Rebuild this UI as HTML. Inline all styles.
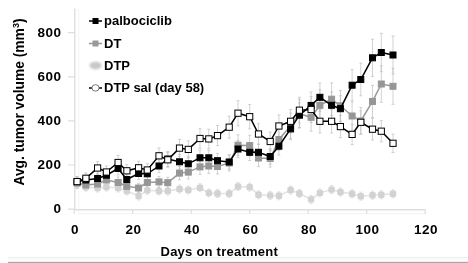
<!DOCTYPE html>
<html><head><meta charset="utf-8"><style>
html,body{margin:0;padding:0;background:#fff;}
body{width:468px;height:263px;overflow:hidden;position:relative;font-family:"Liberation Sans",sans-serif;font-weight:bold;color:#000;}
.t{position:absolute;white-space:nowrap;font-size:13px;line-height:15px;}
.yl{position:absolute;right:407px;text-align:right;font-size:13.5px;line-height:15px;letter-spacing:0.5px;margin-right:-0.5px}
.xl{position:absolute;font-size:13.5px;line-height:15px;letter-spacing:0.5px;text-indent:0.5px;text-align:center;width:40px;}
svg{position:absolute;left:0;top:0}
#w{position:absolute;left:0;top:0;width:468px;height:263px;background:#fff;filter:blur(0.4px);}
</style></head><body><div id="w">
<svg width="468" height="263" viewBox="0 0 468 263"><defs><filter id="bl" x="-50%" y="-50%" width="200%" height="200%"><feGaussianBlur stdDeviation="1.2"/></filter></defs>
<rect x="8" y="261.8" width="460" height="1.2" fill="#a8a8a8"/><path d="M8 259.2H468" stroke="#f5f5f5" stroke-width="0.8"/>
<path d="M8 257.5H468" stroke="#eeeeee" stroke-width="1"/>
<path d="M78.8 9V213.7H426" stroke="#f3f3f3" stroke-width="1" fill="none"/><path d="M74.8 8.5V209.8H425.5" stroke="#dedede" stroke-width="1.4" fill="none"/><path d="M68 209.1H74.5M68 165.0H74.5M68 120.9H74.5M68 76.8H74.5M68 32.7H74.5M74.2 209.5V214M132.7 209.5V214M191.2 209.5V214M249.7 209.5V214M308.2 209.5V214M366.7 209.5V214M425.2 209.5V214" stroke="#dedede" stroke-width="1.2" fill="none"/><path d="M77.1 180.0V188.0M75.6 180.0h3M75.6 188.0h3M85.9 183.0V191.0M84.4 183.0h3M84.4 191.0h3M97.6 184.0V192.0M96.1 184.0h3M96.1 192.0h3M106.4 183.0V191.0M104.9 183.0h3M104.9 191.0h3M118.1 184.0V192.0M116.6 184.0h3M116.6 192.0h3M126.8 187.0V195.0M125.3 187.0h3M125.3 195.0h3M138.6 192.0V200.0M137.1 192.0h3M137.1 200.0h3M147.3 186.3V194.3M145.8 186.3h3M145.8 194.3h3M159.0 187.0V195.0M157.5 187.0h3M157.5 195.0h3M167.8 187.0V195.0M166.3 187.0h3M166.3 195.0h3M179.5 185.0V193.0M178.0 185.0h3M178.0 193.0h3M188.3 186.0V194.0M186.8 186.0h3M186.8 194.0h3M200.0 183.7V191.7M198.5 183.7h3M198.5 191.7h3M208.8 188.9V196.9M207.2 188.9h3M207.2 196.9h3M217.5 189.5V197.5M216.0 189.5h3M216.0 197.5h3M229.2 189.5V197.5M227.7 189.5h3M227.7 197.5h3M238.0 182.5V190.5M236.5 182.5h3M236.5 190.5h3M249.7 183.1V191.1M248.2 183.1h3M248.2 191.1h3M258.5 190.8V198.8M257.0 190.8h3M257.0 198.8h3M270.2 191.4V199.4M268.7 191.4h3M268.7 199.4h3M278.9 191.8V199.8M277.4 191.8h3M277.4 199.8h3M290.6 186.0V194.0M289.1 186.0h3M289.1 194.0h3M299.4 189.5V197.5M297.9 189.5h3M297.9 197.5h3M311.1 195.4V203.4M309.6 195.4h3M309.6 203.4h3M319.9 188.9V196.9M318.4 188.9h3M318.4 196.9h3M331.6 185.6V193.6M330.1 185.6h3M330.1 193.6h3M340.4 188.0V196.0M338.9 188.0h3M338.9 196.0h3M352.1 189.8V197.8M350.6 189.8h3M350.6 197.8h3M360.8 192.2V200.2M359.3 192.2h3M359.3 200.2h3M372.5 191.2V199.2M371.0 191.2h3M371.0 199.2h3M381.3 190.8V198.8M379.8 190.8h3M379.8 198.8h3M393.0 189.8V197.8M391.5 189.8h3M391.5 197.8h3" stroke="#d4d4d4" stroke-width="0.7" fill="none"/><path d="M77.1 177.6V188.4M75.6 177.6h3M75.6 188.4h3M85.9 179.9V190.1M84.4 179.9h3M84.4 190.1h3M97.6 178.7V189.3M96.1 178.7h3M96.1 189.3h3M106.4 174.2V185.8M104.9 174.2h3M104.9 185.8h3M118.1 177.0V188.0M116.6 177.0h3M116.6 188.0h3M126.8 181.3V191.3M125.3 181.3h3M125.3 191.3h3M138.6 183.3V192.7M137.1 183.3h3M137.1 192.7h3M147.3 177.0V188.0M145.8 177.0h3M145.8 188.0h3M159.0 176.4V187.4M157.5 176.4h3M157.5 187.4h3M167.8 177.3V188.1M166.3 177.3h3M166.3 188.1h3M179.5 166.4V179.8M178.0 166.4h3M178.0 179.8h3M188.3 165.3V178.9M186.8 165.3h3M186.8 178.9h3M200.0 159.4V174.4M198.5 159.4h3M198.5 174.4h3M208.8 158.4V173.6M207.2 158.4h3M207.2 173.6h3M217.5 159.0V174.0M216.0 159.0h3M216.0 174.0h3M229.2 155.0V171.0M227.7 155.0h3M227.7 171.0h3M238.0 134.9V155.5M236.5 134.9h3M236.5 155.5h3M249.7 135.3V155.9M248.2 135.3h3M248.2 155.9h3M258.5 149.4V166.6M257.0 149.4h3M257.0 166.6h3M270.2 149.9V167.1M268.7 149.9h3M268.7 167.1h3M278.9 128.5V150.5M277.4 128.5h3M277.4 150.5h3M290.6 113.1V138.7M289.1 113.1h3M289.1 138.7h3M299.4 99.3V128.1M297.9 99.3h3M297.9 128.1h3M311.1 103.4V131.2M309.6 103.4h3M309.6 131.2h3M319.9 89.8V120.8M318.4 89.8h3M318.4 120.8h3M331.6 82.9V115.5M330.1 82.9h3M330.1 115.5h3M340.4 90.4V121.2M338.9 90.4h3M338.9 121.2h3M352.1 101.9V130.1M350.6 101.9h3M350.6 130.1h3M360.8 107.5V134.5M359.3 107.5h3M359.3 134.5h3M372.5 85.4V117.4M371.0 85.4h3M371.0 117.4h3M381.3 65.7V102.3M379.8 65.7h3M379.8 102.3h3M393.0 68.3V104.3M391.5 68.3h3M391.5 104.3h3" stroke="#bfbfbf" stroke-width="0.7" fill="none"/><path d="M77.1 176.6V186.6M75.6 176.6h3M75.6 186.6h3M85.9 174.8V185.2M84.4 174.8h3M84.4 185.2h3M97.6 173.1V183.9M96.1 173.1h3M96.1 183.9h3M106.4 169.5V180.9M104.9 169.5h3M104.9 180.9h3M118.1 162.0V175.0M116.6 162.0h3M116.6 175.0h3M126.8 174.2V184.8M125.3 174.2h3M125.3 184.8h3M138.6 167.6V179.4M137.1 167.6h3M137.1 179.4h3M147.3 167.9V179.7M145.8 167.9h3M145.8 179.7h3M159.0 159.3V172.7M157.5 159.3h3M157.5 172.7h3M167.8 151.5V166.5M166.3 151.5h3M166.3 166.5h3M179.5 154.6V169.0M178.0 154.6h3M178.0 169.0h3M188.3 156.8V170.8M186.8 156.8h3M186.8 170.8h3M200.0 150.2V165.4M198.5 150.2h3M198.5 165.4h3M208.8 150.2V165.4M207.2 150.2h3M207.2 165.4h3M217.5 153.4V168.0M216.0 153.4h3M216.0 168.0h3M229.2 154.8V169.2M227.7 154.8h3M227.7 169.2h3M238.0 140.4V157.6M236.5 140.4h3M236.5 157.6h3M249.7 144.1V160.5M248.2 144.1h3M248.2 160.5h3M258.5 144.1V160.5M257.0 144.1h3M257.0 160.5h3M270.2 148.7V164.3M268.7 148.7h3M268.7 164.3h3M278.9 137.3V155.1M277.4 137.3h3M277.4 155.1h3M290.6 118.1V139.7M289.1 118.1h3M289.1 139.7h3M299.4 102.9V127.5M297.9 102.9h3M297.9 127.5h3M311.1 92.0V118.8M309.6 92.0h3M309.6 118.8h3M319.9 83.0V111.6M318.4 83.0h3M318.4 111.6h3M331.6 91.9V118.7M330.1 91.9h3M330.1 118.7h3M340.4 95.7V121.7M338.9 95.7h3M338.9 121.7h3M352.1 69.6V100.8M350.6 69.6h3M350.6 100.8h3M360.8 63.2V95.8M359.3 63.2h3M359.3 95.8h3M372.5 39.2V76.4M371.0 39.2h3M371.0 76.4h3M381.3 33.3V71.7M379.8 33.3h3M379.8 71.7h3M393.0 36.0V74.0M391.5 36.0h3M391.5 74.0h3" stroke="#bfbfbf" stroke-width="0.7" fill="none"/><path d="M77.1 176.6V186.6M75.6 176.6h3M75.6 186.6h3M85.9 172.9V183.7M84.4 172.9h3M84.4 183.7h3M97.6 161.5V174.5M96.1 161.5h3M96.1 174.5h3M106.4 165.9V178.1M104.9 165.9h3M104.9 178.1h3M118.1 155.4V169.6M116.6 155.4h3M116.6 169.6h3M126.8 164.6V177.0M125.3 164.6h3M125.3 177.0h3M138.6 161.3V174.3M137.1 161.3h3M137.1 174.3h3M147.3 163.7V176.3M145.8 163.7h3M145.8 176.3h3M159.0 147.9V163.7M157.5 147.9h3M157.5 163.7h3M167.8 152.4V167.2M166.3 152.4h3M166.3 167.2h3M179.5 139.4V156.8M178.0 139.4h3M178.0 156.8h3M188.3 140.8V158.0M186.8 140.8h3M186.8 158.0h3M200.0 128.7V148.3M198.5 128.7h3M198.5 148.3h3M208.8 129.2V148.6M207.2 129.2h3M207.2 148.6h3M217.5 125.5V145.7M216.0 125.5h3M216.0 145.7h3M229.2 116.2V138.2M227.7 116.2h3M227.7 138.2h3M238.0 100.7V125.7M236.5 100.7h3M236.5 125.7h3M249.7 104.5V128.9M248.2 104.5h3M248.2 128.9h3M258.5 123.7V144.3M257.0 123.7h3M257.0 144.3h3M270.2 132.1V150.9M268.7 132.1h3M268.7 150.9h3M278.9 114.9V137.1M277.4 114.9h3M277.4 137.1h3M290.6 109.6V133.0M289.1 109.6h3M289.1 133.0h3M299.4 97.3V123.1M297.9 97.3h3M297.9 123.1h3M311.1 96.5V122.5M309.6 96.5h3M309.6 122.5h3M319.9 109.6V133.0M318.4 109.6h3M318.4 133.0h3M331.6 109.6V133.0M330.1 109.6h3M330.1 133.0h3M340.4 115.5V137.7M338.9 115.5h3M338.9 137.7h3M352.1 124.2V144.6M350.6 124.2h3M350.6 144.6h3M360.8 110.8V133.8M359.3 110.8h3M359.3 133.8h3M372.5 118.4V140.0M371.0 118.4h3M371.0 140.0h3M381.3 120.6V141.8M379.8 120.6h3M379.8 141.8h3M393.0 134.1V152.5M391.5 134.1h3M391.5 152.5h3" stroke="#bfbfbf" stroke-width="0.7" fill="none"/><polyline points="77.1,184.0 85.9,187.0 97.6,188.0 106.4,187.0 118.1,188.0 126.8,191.0 138.6,196.0 147.3,190.3 159.0,191.0 167.8,191.0 179.5,189.0 188.3,190.0 200.0,187.7 208.8,192.9 217.5,193.5 229.2,193.5 238.0,186.5 249.7,187.1 258.5,194.8 270.2,195.4 278.9,195.8 290.6,190.0 299.4,193.5 311.1,199.4 319.9,192.9 331.6,189.6 340.4,192.0 352.1,193.8 360.8,196.2 372.5,195.2 381.3,194.8 393.0,193.8" fill="none" stroke="#e3e3e3" stroke-width="1.5" stroke-linejoin="miter"/><rect x="73.9" y="180.8" width="6.4" height="6.4" rx="1.5" fill="#d2d2d2"/><rect x="82.7" y="183.8" width="6.4" height="6.4" rx="1.5" fill="#d2d2d2"/><rect x="94.4" y="184.8" width="6.4" height="6.4" rx="1.5" fill="#d2d2d2"/><rect x="103.2" y="183.8" width="6.4" height="6.4" rx="1.5" fill="#d2d2d2"/><rect x="114.9" y="184.8" width="6.4" height="6.4" rx="1.5" fill="#d2d2d2"/><rect x="123.6" y="187.8" width="6.4" height="6.4" rx="1.5" fill="#d2d2d2"/><rect x="135.4" y="192.8" width="6.4" height="6.4" rx="1.5" fill="#d2d2d2"/><rect x="144.1" y="187.1" width="6.4" height="6.4" rx="1.5" fill="#d2d2d2"/><rect x="155.8" y="187.8" width="6.4" height="6.4" rx="1.5" fill="#d2d2d2"/><rect x="164.6" y="187.8" width="6.4" height="6.4" rx="1.5" fill="#d2d2d2"/><rect x="176.3" y="185.8" width="6.4" height="6.4" rx="1.5" fill="#d2d2d2"/><rect x="185.1" y="186.8" width="6.4" height="6.4" rx="1.5" fill="#d2d2d2"/><rect x="196.8" y="184.5" width="6.4" height="6.4" rx="1.5" fill="#d2d2d2"/><rect x="205.6" y="189.7" width="6.4" height="6.4" rx="1.5" fill="#d2d2d2"/><rect x="214.3" y="190.3" width="6.4" height="6.4" rx="1.5" fill="#d2d2d2"/><rect x="226.0" y="190.3" width="6.4" height="6.4" rx="1.5" fill="#d2d2d2"/><rect x="234.8" y="183.3" width="6.4" height="6.4" rx="1.5" fill="#d2d2d2"/><rect x="246.5" y="183.9" width="6.4" height="6.4" rx="1.5" fill="#d2d2d2"/><rect x="255.3" y="191.6" width="6.4" height="6.4" rx="1.5" fill="#d2d2d2"/><rect x="267.0" y="192.2" width="6.4" height="6.4" rx="1.5" fill="#d2d2d2"/><rect x="275.8" y="192.6" width="6.4" height="6.4" rx="1.5" fill="#d2d2d2"/><rect x="287.4" y="186.8" width="6.4" height="6.4" rx="1.5" fill="#d2d2d2"/><rect x="296.2" y="190.3" width="6.4" height="6.4" rx="1.5" fill="#d2d2d2"/><rect x="307.9" y="196.2" width="6.4" height="6.4" rx="1.5" fill="#d2d2d2"/><rect x="316.7" y="189.7" width="6.4" height="6.4" rx="1.5" fill="#d2d2d2"/><rect x="328.4" y="186.4" width="6.4" height="6.4" rx="1.5" fill="#d2d2d2"/><rect x="337.2" y="188.8" width="6.4" height="6.4" rx="1.5" fill="#d2d2d2"/><rect x="348.9" y="190.6" width="6.4" height="6.4" rx="1.5" fill="#d2d2d2"/><rect x="357.6" y="193.0" width="6.4" height="6.4" rx="1.5" fill="#d2d2d2"/><rect x="369.3" y="192.0" width="6.4" height="6.4" rx="1.5" fill="#d2d2d2"/><rect x="378.1" y="191.6" width="6.4" height="6.4" rx="1.5" fill="#d2d2d2"/><rect x="389.8" y="190.6" width="6.4" height="6.4" rx="1.5" fill="#d2d2d2"/><polyline points="77.1,183.0 85.9,185.0 97.6,184.0 106.4,180.0 118.1,182.5 126.8,186.3 138.6,188.0 147.3,182.5 159.0,181.9 167.8,182.7 179.5,173.1 188.3,172.1 200.0,166.9 208.8,166.0 217.5,166.5 229.2,163.0 238.0,145.2 249.7,145.6 258.5,158.0 270.2,158.5 278.9,139.5 290.6,125.9 299.4,113.7 311.1,117.3 319.9,105.3 331.6,99.2 340.4,105.8 352.1,116.0 360.8,121.0 372.5,101.4 381.3,84.0 393.0,86.3" fill="none" stroke="#999999" stroke-width="1.5" stroke-linejoin="miter"/><rect x="74.1" y="180.0" width="6" height="6" fill="#969696" stroke="#969696" stroke-width="1"/><rect x="82.9" y="182.0" width="6" height="6" fill="#969696" stroke="#969696" stroke-width="1"/><rect x="94.6" y="181.0" width="6" height="6" fill="#969696" stroke="#969696" stroke-width="1"/><rect x="103.4" y="177.0" width="6" height="6" fill="#969696" stroke="#969696" stroke-width="1"/><rect x="115.1" y="179.5" width="6" height="6" fill="#969696" stroke="#969696" stroke-width="1"/><rect x="123.8" y="183.3" width="6" height="6" fill="#969696" stroke="#969696" stroke-width="1"/><rect x="135.6" y="185.0" width="6" height="6" fill="#969696" stroke="#969696" stroke-width="1"/><rect x="144.3" y="179.5" width="6" height="6" fill="#969696" stroke="#969696" stroke-width="1"/><rect x="156.0" y="178.9" width="6" height="6" fill="#969696" stroke="#969696" stroke-width="1"/><rect x="164.8" y="179.7" width="6" height="6" fill="#969696" stroke="#969696" stroke-width="1"/><rect x="176.5" y="170.1" width="6" height="6" fill="#969696" stroke="#969696" stroke-width="1"/><rect x="185.3" y="169.1" width="6" height="6" fill="#969696" stroke="#969696" stroke-width="1"/><rect x="197.0" y="163.9" width="6" height="6" fill="#969696" stroke="#969696" stroke-width="1"/><rect x="205.8" y="163.0" width="6" height="6" fill="#969696" stroke="#969696" stroke-width="1"/><rect x="214.5" y="163.5" width="6" height="6" fill="#969696" stroke="#969696" stroke-width="1"/><rect x="226.2" y="160.0" width="6" height="6" fill="#969696" stroke="#969696" stroke-width="1"/><rect x="235.0" y="142.2" width="6" height="6" fill="#969696" stroke="#969696" stroke-width="1"/><rect x="246.7" y="142.6" width="6" height="6" fill="#969696" stroke="#969696" stroke-width="1"/><rect x="255.5" y="155.0" width="6" height="6" fill="#969696" stroke="#969696" stroke-width="1"/><rect x="267.2" y="155.5" width="6" height="6" fill="#969696" stroke="#969696" stroke-width="1"/><rect x="275.9" y="136.5" width="6" height="6" fill="#969696" stroke="#969696" stroke-width="1"/><rect x="287.6" y="122.9" width="6" height="6" fill="#969696" stroke="#969696" stroke-width="1"/><rect x="296.4" y="110.7" width="6" height="6" fill="#969696" stroke="#969696" stroke-width="1"/><rect x="308.1" y="114.3" width="6" height="6" fill="#969696" stroke="#969696" stroke-width="1"/><rect x="316.9" y="102.3" width="6" height="6" fill="#969696" stroke="#969696" stroke-width="1"/><rect x="328.6" y="96.2" width="6" height="6" fill="#969696" stroke="#969696" stroke-width="1"/><rect x="337.4" y="102.8" width="6" height="6" fill="#969696" stroke="#969696" stroke-width="1"/><rect x="349.1" y="113.0" width="6" height="6" fill="#969696" stroke="#969696" stroke-width="1"/><rect x="357.8" y="118.0" width="6" height="6" fill="#969696" stroke="#969696" stroke-width="1"/><rect x="369.5" y="98.4" width="6" height="6" fill="#969696" stroke="#969696" stroke-width="1"/><rect x="378.3" y="81.0" width="6" height="6" fill="#969696" stroke="#969696" stroke-width="1"/><rect x="390.0" y="83.3" width="6" height="6" fill="#969696" stroke="#969696" stroke-width="1"/><polyline points="77.1,181.6 85.9,180.0 97.6,178.5 106.4,175.2 118.1,168.5 126.8,179.5 138.6,173.5 147.3,173.8 159.0,166.0 167.8,159.0 179.5,161.8 188.3,163.8 200.0,157.8 208.8,157.8 217.5,160.7 229.2,162.0 238.0,149.0 249.7,152.3 258.5,152.3 270.2,156.5 278.9,146.2 290.6,128.9 299.4,115.2 311.1,105.4 319.9,97.3 331.6,105.3 340.4,108.7 352.1,85.2 360.8,79.5 372.5,57.8 381.3,52.5 393.0,55.0" fill="none" stroke="#000" stroke-width="1.5" stroke-linejoin="miter"/><rect x="74.1" y="178.6" width="6" height="6" fill="#000" stroke="#000" stroke-width="1"/><rect x="82.9" y="177.0" width="6" height="6" fill="#000" stroke="#000" stroke-width="1"/><rect x="94.6" y="175.5" width="6" height="6" fill="#000" stroke="#000" stroke-width="1"/><rect x="103.4" y="172.2" width="6" height="6" fill="#000" stroke="#000" stroke-width="1"/><rect x="115.1" y="165.5" width="6" height="6" fill="#000" stroke="#000" stroke-width="1"/><rect x="123.8" y="176.5" width="6" height="6" fill="#000" stroke="#000" stroke-width="1"/><rect x="135.6" y="170.5" width="6" height="6" fill="#000" stroke="#000" stroke-width="1"/><rect x="144.3" y="170.8" width="6" height="6" fill="#000" stroke="#000" stroke-width="1"/><rect x="156.0" y="163.0" width="6" height="6" fill="#000" stroke="#000" stroke-width="1"/><rect x="164.8" y="156.0" width="6" height="6" fill="#000" stroke="#000" stroke-width="1"/><rect x="176.5" y="158.8" width="6" height="6" fill="#000" stroke="#000" stroke-width="1"/><rect x="185.3" y="160.8" width="6" height="6" fill="#000" stroke="#000" stroke-width="1"/><rect x="197.0" y="154.8" width="6" height="6" fill="#000" stroke="#000" stroke-width="1"/><rect x="205.8" y="154.8" width="6" height="6" fill="#000" stroke="#000" stroke-width="1"/><rect x="214.5" y="157.7" width="6" height="6" fill="#000" stroke="#000" stroke-width="1"/><rect x="226.2" y="159.0" width="6" height="6" fill="#000" stroke="#000" stroke-width="1"/><rect x="235.0" y="146.0" width="6" height="6" fill="#000" stroke="#000" stroke-width="1"/><rect x="246.7" y="149.3" width="6" height="6" fill="#000" stroke="#000" stroke-width="1"/><rect x="255.5" y="149.3" width="6" height="6" fill="#000" stroke="#000" stroke-width="1"/><rect x="267.2" y="153.5" width="6" height="6" fill="#000" stroke="#000" stroke-width="1"/><rect x="275.9" y="143.2" width="6" height="6" fill="#000" stroke="#000" stroke-width="1"/><rect x="287.6" y="125.9" width="6" height="6" fill="#000" stroke="#000" stroke-width="1"/><rect x="296.4" y="112.2" width="6" height="6" fill="#000" stroke="#000" stroke-width="1"/><rect x="308.1" y="102.4" width="6" height="6" fill="#000" stroke="#000" stroke-width="1"/><rect x="316.9" y="94.3" width="6" height="6" fill="#000" stroke="#000" stroke-width="1"/><rect x="328.6" y="102.3" width="6" height="6" fill="#000" stroke="#000" stroke-width="1"/><rect x="337.4" y="105.7" width="6" height="6" fill="#000" stroke="#000" stroke-width="1"/><rect x="349.1" y="82.2" width="6" height="6" fill="#000" stroke="#000" stroke-width="1"/><rect x="357.8" y="76.5" width="6" height="6" fill="#000" stroke="#000" stroke-width="1"/><rect x="369.5" y="54.8" width="6" height="6" fill="#000" stroke="#000" stroke-width="1"/><rect x="378.3" y="49.5" width="6" height="6" fill="#000" stroke="#000" stroke-width="1"/><rect x="390.0" y="52.0" width="6" height="6" fill="#000" stroke="#000" stroke-width="1"/><polyline points="77.1,181.6 85.9,178.3 97.6,168.0 106.4,172.0 118.1,162.5 126.8,170.8 138.6,167.8 147.3,170.0 159.0,155.8 167.8,159.8 179.5,148.1 188.3,149.4 200.0,138.5 208.8,138.9 217.5,135.6 229.2,127.2 238.0,113.2 249.7,116.7 258.5,134.0 270.2,141.5 278.9,126.0 290.6,121.3 299.4,110.2 311.1,109.5 319.9,121.3 331.6,121.3 340.4,126.6 352.1,134.4 360.8,122.3 372.5,129.2 381.3,131.2 393.0,143.3" fill="none" stroke="#000" stroke-width="1.5" stroke-linejoin="miter"/><rect x="74.0" y="178.5" width="6.2" height="6.2" fill="#fff" stroke="#000" stroke-width="1"/><rect x="82.8" y="175.2" width="6.2" height="6.2" fill="#fff" stroke="#000" stroke-width="1"/><rect x="94.5" y="164.9" width="6.2" height="6.2" fill="#fff" stroke="#000" stroke-width="1"/><rect x="103.3" y="168.9" width="6.2" height="6.2" fill="#fff" stroke="#000" stroke-width="1"/><rect x="115.0" y="159.4" width="6.2" height="6.2" fill="#fff" stroke="#000" stroke-width="1"/><rect x="123.8" y="167.7" width="6.2" height="6.2" fill="#fff" stroke="#000" stroke-width="1"/><rect x="135.5" y="164.7" width="6.2" height="6.2" fill="#fff" stroke="#000" stroke-width="1"/><rect x="144.2" y="166.9" width="6.2" height="6.2" fill="#fff" stroke="#000" stroke-width="1"/><rect x="155.9" y="152.7" width="6.2" height="6.2" fill="#fff" stroke="#000" stroke-width="1"/><rect x="164.7" y="156.7" width="6.2" height="6.2" fill="#fff" stroke="#000" stroke-width="1"/><rect x="176.4" y="145.0" width="6.2" height="6.2" fill="#fff" stroke="#000" stroke-width="1"/><rect x="185.2" y="146.3" width="6.2" height="6.2" fill="#fff" stroke="#000" stroke-width="1"/><rect x="196.9" y="135.4" width="6.2" height="6.2" fill="#fff" stroke="#000" stroke-width="1"/><rect x="205.7" y="135.8" width="6.2" height="6.2" fill="#fff" stroke="#000" stroke-width="1"/><rect x="214.4" y="132.5" width="6.2" height="6.2" fill="#fff" stroke="#000" stroke-width="1"/><rect x="226.1" y="124.1" width="6.2" height="6.2" fill="#fff" stroke="#000" stroke-width="1"/><rect x="234.9" y="110.1" width="6.2" height="6.2" fill="#fff" stroke="#000" stroke-width="1"/><rect x="246.6" y="113.6" width="6.2" height="6.2" fill="#fff" stroke="#000" stroke-width="1"/><rect x="255.4" y="130.9" width="6.2" height="6.2" fill="#fff" stroke="#000" stroke-width="1"/><rect x="267.1" y="138.4" width="6.2" height="6.2" fill="#fff" stroke="#000" stroke-width="1"/><rect x="275.8" y="122.9" width="6.2" height="6.2" fill="#fff" stroke="#000" stroke-width="1"/><rect x="287.5" y="118.2" width="6.2" height="6.2" fill="#fff" stroke="#000" stroke-width="1"/><rect x="296.3" y="107.1" width="6.2" height="6.2" fill="#fff" stroke="#000" stroke-width="1"/><rect x="308.0" y="106.4" width="6.2" height="6.2" fill="#fff" stroke="#000" stroke-width="1"/><rect x="316.8" y="118.2" width="6.2" height="6.2" fill="#fff" stroke="#000" stroke-width="1"/><rect x="328.5" y="118.2" width="6.2" height="6.2" fill="#fff" stroke="#000" stroke-width="1"/><rect x="337.3" y="123.5" width="6.2" height="6.2" fill="#fff" stroke="#000" stroke-width="1"/><rect x="349.0" y="131.3" width="6.2" height="6.2" fill="#fff" stroke="#000" stroke-width="1"/><rect x="357.7" y="119.2" width="6.2" height="6.2" fill="#fff" stroke="#000" stroke-width="1"/><rect x="369.4" y="126.1" width="6.2" height="6.2" fill="#fff" stroke="#000" stroke-width="1"/><rect x="378.2" y="128.1" width="6.2" height="6.2" fill="#fff" stroke="#000" stroke-width="1"/><rect x="389.9" y="140.2" width="6.2" height="6.2" fill="#fff" stroke="#000" stroke-width="1"/><path d="M89 21H102" stroke="#000" stroke-width="1.5"/><rect x="92.5" y="18" width="6" height="6" fill="#000"/><path d="M89 43.5H102" stroke="#999" stroke-width="1.5"/><rect x="92.5" y="40.5" width="6" height="6" fill="#999"/><ellipse cx="95.5" cy="65.6" rx="6" ry="3.9" fill="#c8c8c8" filter="url(#bl)"/><path d="M89 87.9H92M99 87.9H102" stroke="#000" stroke-width="1.5"/><ellipse cx="95.5" cy="87.9" rx="3.6" ry="3.2" fill="#fff" stroke="#666" stroke-width="0.9"/>
</svg>
<div class="yl" style="top:201.1px">0</div>
<div class="yl" style="top:157.0px">200</div>
<div class="yl" style="top:112.9px">400</div>
<div class="yl" style="top:68.8px">600</div>
<div class="yl" style="top:24.7px">800</div>
<div class="xl" style="left:54.7px;top:221.5px">0</div>
<div class="xl" style="left:113.2px;top:221.5px">20</div>
<div class="xl" style="left:171.7px;top:221.5px">40</div>
<div class="xl" style="left:230.2px;top:221.5px">60</div>
<div class="xl" style="left:288.7px;top:221.5px">80</div>
<div class="xl" style="left:347.2px;top:221.5px">100</div>
<div class="xl" style="left:405.7px;top:221.5px">120</div>
<div class="t" style="left:160.5px;top:243.5px;letter-spacing:0.24px">Days on treatment</div>
<div class="t" style="left:27px;top:101.5px;font-size:13.8px;transform-origin:0 0;transform:rotate(-90deg) translate(-50%,-100%);">Avg. tumor volume (mm<span style="font-size:9px;vertical-align:5px">3</span>)</div>
<div class="t" style="left:104px;top:13.0px">palbociclib</div>
<div class="t" style="left:104px;top:35.5px">DT</div>
<div class="t" style="left:104px;top:57.6px">DTP</div>
<div class="t" style="left:104px;top:79.9px">DTP sal (day 58)</div>
</div></body></html>
